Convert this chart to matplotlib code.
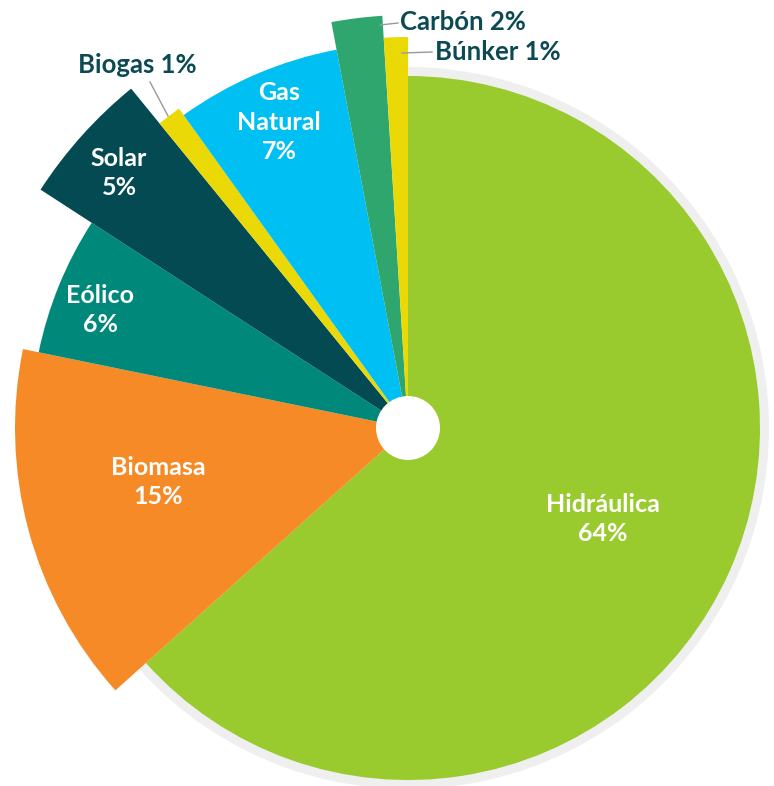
import matplotlib
matplotlib.use("Agg")
import matplotlib.pyplot as plt
from matplotlib.patches import Wedge, Circle

# Matriz de generación por fuente (%)
fuentes = ["Hidráulica", "Biomasa", "Eólico", "Solar", "Biogas",
           "Gas Natural", "Carbón", "Búnker"]
porcentajes = [64, 15, 6, 5, 1, 7, 2, 1]
colores = ["#99CA2E", "#F68A26", "#00897A", "#034A52", "#EAD906",
           "#00BFF3", "#2EA66E", "#EAD906"]
# each wedge gets its own radius (pixels)
radios = [352, 393, 377, 438, 393, 385, 413, 391]

W, H = 774, 786
cx, cy = 408, H - 428
textoOscuro = "#0B4A52"
fuente = "Lato"

fig = plt.figure(figsize=(W / 100, H / 100), dpi=100)
ax = fig.add_axes([0, 0, 1, 1])

wedges, _ = ax.pie(porcentajes, colors=colores, startangle=90,
                   counterclock=False, center=(cx, cy), radius=352,
                   wedgeprops=dict(linewidth=0))
for w, r in zip(wedges, radios):
    w.set_radius(r)

# light gray rim behind the big wedge
hid = wedges[0]
sombra = Wedge((cx, cy), 361, hid.theta1, hid.theta2, facecolor="#EFEFEF",
               edgecolor="none", zorder=hid.get_zorder() - 0.5)
ax.add_patch(sombra)

ax.add_patch(Circle((cx, cy), 32, facecolor="white", edgecolor="none", zorder=5))

# labels inside wedges
etiquetasDentro = {
    0: ("Hidráulica\n64%", 603, 519),
    1: ("Biomasa\n15%", 158, 482),
    2: ("Eólico\n6%", 100, 310),
    3: ("Solar\n5%", 119, 173),
    5: ("Gas\nNatural\n7%", 279, 122),
}
for i, (txt, x, y) in etiquetasDentro.items():
    ax.text(x, H - y, txt, ha="center", va="center", color="white",
            fontsize=18, fontweight="bold", family=fuente, linespacing=1.32, zorder=6)

# labels outside with leader lines
ax.plot([150, 168], [H - 82, H - 116], color="#999999", lw=1, zorder=6)
ax.text(137, H - 65, "Biogas 1%", ha="center", va="center", color=textoOscuro,
        fontsize=18.5, fontweight="bold", family=fuente, zorder=6)

ax.plot([380, 398], [H - 25, H - 23], color="#999999", lw=1, zorder=6)
ax.text(400, H - 22, "Carbón 2%", ha="left", va="center", color=textoOscuro,
        fontsize=18.5, fontweight="bold", family=fuente, zorder=6)

ax.plot([402, 432], [H - 53, H - 52], color="#999999", lw=1, zorder=6)
ax.text(435, H - 52, "Búnker 1%", ha="left", va="center", color=textoOscuro,
        fontsize=18.5, fontweight="bold", family=fuente, zorder=6)

ax.set_xlim(0, W)
ax.set_ylim(0, H)
ax.set_aspect("equal")
ax.axis("off")

fig.savefig("out.png", dpi=100, facecolor="white")
